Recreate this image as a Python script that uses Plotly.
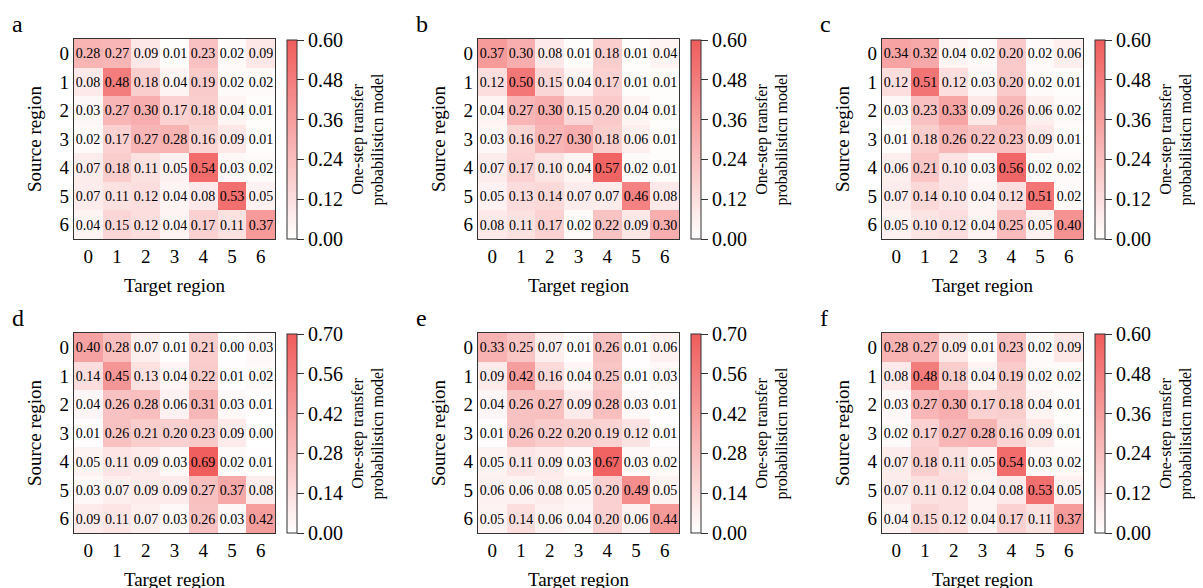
import plotly.graph_objects as go

regions = [0, 1, 2, 3, 4, 5, 6]
tick_labels = ["0", "1", "2", "3", "4", "5", "6"]
panel_letters = ["a", "b", "c", "d", "e", "f"]

mat_a = [
    [0.28, 0.27, 0.09, 0.01, 0.23, 0.02, 0.09],
    [0.08, 0.48, 0.18, 0.04, 0.19, 0.02, 0.02],
    [0.03, 0.27, 0.30, 0.17, 0.18, 0.04, 0.01],
    [0.02, 0.17, 0.27, 0.28, 0.16, 0.09, 0.01],
    [0.07, 0.18, 0.11, 0.05, 0.54, 0.03, 0.02],
    [0.07, 0.11, 0.12, 0.04, 0.08, 0.53, 0.05],
    [0.04, 0.15, 0.12, 0.04, 0.17, 0.11, 0.37],
]
mat_b = [
    [0.37, 0.30, 0.08, 0.01, 0.18, 0.01, 0.04],
    [0.12, 0.50, 0.15, 0.04, 0.17, 0.01, 0.01],
    [0.04, 0.27, 0.30, 0.15, 0.20, 0.04, 0.01],
    [0.03, 0.16, 0.27, 0.30, 0.18, 0.06, 0.01],
    [0.07, 0.17, 0.10, 0.04, 0.57, 0.02, 0.01],
    [0.05, 0.13, 0.14, 0.07, 0.07, 0.46, 0.08],
    [0.08, 0.11, 0.17, 0.02, 0.22, 0.09, 0.30],
]
mat_c = [
    [0.34, 0.32, 0.04, 0.02, 0.20, 0.02, 0.06],
    [0.12, 0.51, 0.12, 0.03, 0.20, 0.02, 0.01],
    [0.03, 0.23, 0.33, 0.09, 0.26, 0.06, 0.02],
    [0.01, 0.18, 0.26, 0.22, 0.23, 0.09, 0.01],
    [0.06, 0.21, 0.10, 0.03, 0.56, 0.02, 0.02],
    [0.07, 0.14, 0.10, 0.04, 0.12, 0.51, 0.02],
    [0.05, 0.10, 0.12, 0.04, 0.25, 0.05, 0.40],
]
mat_d = [
    [0.40, 0.28, 0.07, 0.01, 0.21, 0.00, 0.03],
    [0.14, 0.45, 0.13, 0.04, 0.22, 0.01, 0.02],
    [0.04, 0.26, 0.28, 0.06, 0.31, 0.03, 0.01],
    [0.01, 0.26, 0.21, 0.20, 0.23, 0.09, 0.00],
    [0.05, 0.11, 0.09, 0.03, 0.69, 0.02, 0.01],
    [0.03, 0.07, 0.09, 0.09, 0.27, 0.37, 0.08],
    [0.09, 0.11, 0.07, 0.03, 0.26, 0.03, 0.42],
]
mat_e = [
    [0.33, 0.25, 0.07, 0.01, 0.26, 0.01, 0.06],
    [0.09, 0.42, 0.16, 0.04, 0.25, 0.01, 0.03],
    [0.04, 0.26, 0.27, 0.09, 0.28, 0.03, 0.01],
    [0.01, 0.26, 0.22, 0.20, 0.19, 0.12, 0.01],
    [0.05, 0.11, 0.09, 0.03, 0.67, 0.03, 0.02],
    [0.06, 0.06, 0.08, 0.05, 0.20, 0.49, 0.05],
    [0.05, 0.14, 0.06, 0.04, 0.20, 0.06, 0.44],
]
mat_f = [
    [0.28, 0.27, 0.09, 0.01, 0.23, 0.02, 0.09],
    [0.08, 0.48, 0.18, 0.04, 0.19, 0.02, 0.02],
    [0.03, 0.27, 0.30, 0.17, 0.18, 0.04, 0.01],
    [0.02, 0.17, 0.27, 0.28, 0.16, 0.09, 0.01],
    [0.07, 0.18, 0.11, 0.05, 0.54, 0.03, 0.02],
    [0.07, 0.11, 0.12, 0.04, 0.08, 0.53, 0.05],
    [0.04, 0.15, 0.12, 0.04, 0.17, 0.11, 0.37],
]
matrices = [mat_a, mat_b, mat_c, mat_d, mat_e, mat_f]
zmax_values = [0.60, 0.60, 0.60, 0.70, 0.70, 0.60]
cbar_ticks_six = [0.00, 0.12, 0.24, 0.36, 0.48, 0.60]
cbar_ticks_seven = [0.00, 0.14, 0.28, 0.42, 0.56, 0.70]
cbar_ticks = [cbar_ticks_six, cbar_ticks_six, cbar_ticks_six,
              cbar_ticks_seven, cbar_ticks_seven, cbar_ticks_six]

W, H = 1203, 588
OFF = 8  # default page body margin
FONT = "Liberation Serif"
colorscale = [[0.0, "#ffffff"], [1.0, "#f05c5c"]]

# pixel geometry of the panels (page coordinates)
col_left = [74, 478, 882]
row_top = [39, 333]
size = 201


def px_x(x):
    return (x - OFF) / W


def px_y(y):
    return 1 - (y - OFF) / H


fig = go.Figure()
layout = dict(
    width=W, height=H,
    margin=dict(l=0, r=0, t=0, b=0),
    paper_bgcolor="white", plot_bgcolor="white",
    font=dict(family=FONT, color="black"),
    showlegend=False,
)
annotations = []

for i, mat in enumerate(matrices):
    r, c = divmod(i, 3)
    left = col_left[c]
    top = row_top[r]
    n = i + 1
    xa = "x" if n == 1 else f"x{n}"
    ya = "y" if n == 1 else f"y{n}"
    ca = "coloraxis" if n == 1 else f"coloraxis{n}"
    fig.add_trace(go.Heatmap(
        z=mat, x=regions, y=regions,
        xaxis=xa, yaxis=ya, coloraxis=ca,
        texttemplate="%{z:.2f}",
        textfont=dict(family=FONT, size=14, color="black"),
        hoverinfo="skip",
    ))
    axis_common = dict(
        showline=True, linecolor="#333333", linewidth=1.2, mirror=True,
        ticks="", showgrid=False, zeroline=False,
        tickmode="array", tickvals=regions, ticktext=tick_labels,
        tickfont=dict(family=FONT, size=19, color="black"),
    )
    layout["xaxis" if n == 1 else f"xaxis{n}"] = dict(
        axis_common,
        domain=[px_x(left), px_x(left + size)],
        anchor=ya, range=[-0.5, 6.5],
        title=dict(text="Target region", font=dict(family=FONT, size=19), standoff=12),
    )
    layout["yaxis" if n == 1 else f"yaxis{n}"] = dict(
        axis_common,
        domain=[px_y(top + size - 1), px_y(top)],
        anchor=xa, range=[6.5, -0.5],
        title=dict(text="Source region", font=dict(family=FONT, size=19), standoff=12),
    )
    zmax = zmax_values[i]
    ticks = cbar_ticks[i]
    layout[ca] = dict(
        cmin=0, cmax=zmax, colorscale=colorscale,
        colorbar=dict(
            x=px_x(left + 213), xanchor="left", xpad=0,
            y=px_y(top + size / 2), yanchor="middle", ypad=0,
            lenmode="pixels", len=size - 2,
            thicknessmode="pixels", thickness=10,
            outlinewidth=1, outlinecolor="#333333",
            ticks="outside", ticklen=7, tickcolor="#333333", tickwidth=1,
            tickvals=ticks, ticktext=[f"{t:.2f}" for t in ticks],
            tickfont=dict(family=FONT, size=20, color="black"),
        ),
    )
    annotations.append(dict(
        text="One-step transfer<br>probabilisticn model",
        x=px_x(left + 294), y=px_y(top + size / 2),
        xref="paper", yref="paper", xanchor="center", yanchor="middle",
        textangle=-90, showarrow=False,
        font=dict(family=FONT, size=16, color="black"),
    ))
    annotations.append(dict(
        text=panel_letters[i],
        x=px_x(left - 64), y=px_y(top - 15),
        xref="paper", yref="paper", xanchor="left", yanchor="middle",
        showarrow=False,
        font=dict(family=FONT, size=24, color="black"),
    ))

layout["annotations"] = annotations
fig.update_layout(**layout)
fig.write_html("out.html")
